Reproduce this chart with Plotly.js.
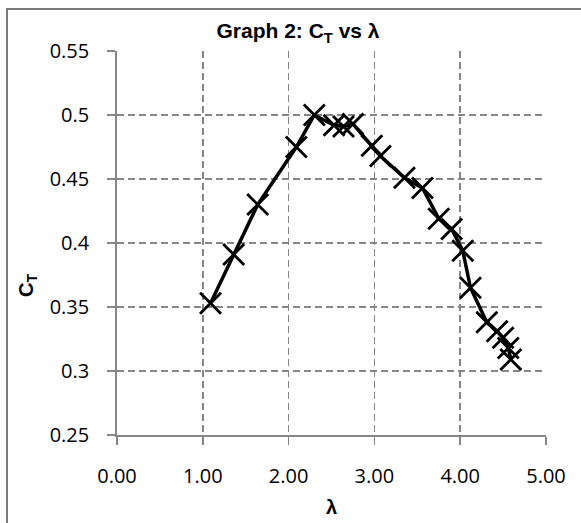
<!DOCTYPE html>
<html>
<head>
<meta charset="utf-8">
<script src="https://cdn.plot.ly/plotly-3.0.1.min.js"></script>
<style>
html,body{margin:0;padding:0;background:#fff;}
#chart{width:581px;height:523px;}
</style>
</head>
<body>
<div id="chart"></div>
<script>
// Data
const lambdaVals = [1.09, 1.36, 1.64, 2.09, 2.30, 2.53, 2.64, 2.75, 2.97, 3.07, 3.35, 3.56, 3.75, 3.90, 4.03, 4.12, 4.31, 4.43, 4.50, 4.56, 4.59];
const ctVals     = [0.353, 0.391, 0.430, 0.475, 0.500, 0.492, 0.491, 0.493, 0.476, 0.468, 0.451, 0.443, 0.419, 0.411, 0.394, 0.365, 0.338, 0.331, 0.326, 0.318, 0.309];
const xTickVals  = [0, 1, 2, 3, 4, 5];
const xTickText  = ["0.00", "1.00", "2.00", "3.00", "4.00", "5.00"];
const yTickVals  = [0.25, 0.3, 0.35, 0.4, 0.45, 0.5, 0.55];
const yTickText  = ["0.25", "0.3", "0.35", "0.4", "0.45", "0.5", "0.55"];

const W = 581, H = 523;
const M = {l: 117, r: 35, t: 51, b: 88};
const pw = W - M.l - M.r, ph = H - M.t - M.b;
const px2paperX = p => (p - M.l) / pw;
const py2paperY = p => (H - M.b - p) / ph;

const gridColor = "#868686";
const tickFont = {family: "Open Sans, Liberation Sans, sans-serif", size: 20, color: "#000"};

const trace = {
  x: lambdaVals,
  y: ctVals,
  mode: "lines+markers",
  type: "scatter",
  line: {color: "#000", width: 3.5},
  marker: {symbol: "x-thin-open", size: 21, line: {color: "#000", width: 2.8}},
  cliponaxis: false,
  showlegend: false
};

const layout = {
  width: W, height: H,
  margin: M,
  paper_bgcolor: "#fff",
  plot_bgcolor: "#fff",
  title: {
    text: "<b>Graph 2: C<sub>T</sub> vs λ</b>",
    font: {family: "Liberation Sans, Arial, sans-serif", size: 21, color: "#000"},
    xref: "container", x: 298 / W, xanchor: "center",
    yref: "container", y: 1 - 31 / H, yanchor: "middle"
  },
  xaxis: {
    range: [0, 5],
    tickvals: xTickVals, ticktext: xTickText,
    ticks: "outside", ticklen: 8, tickwidth: 1.5, tickcolor: gridColor,
    showline: true, linecolor: gridColor, linewidth: 1.8,
    showgrid: true, gridcolor: gridColor, gridwidth: 1.5, griddash: "7px,4px",
    zeroline: false,
    tickfont: tickFont,
    ticklabelstandoff: 14,
    title: {text: "<b>λ</b>", font: {family: "Liberation Sans, Arial, sans-serif", size: 20, color: "#000"}, standoff: 12}
  },
  yaxis: {
    range: [0.25, 0.55],
    tickvals: yTickVals, ticktext: yTickText,
    ticks: "outside", ticklen: 8, tickwidth: 1.5, tickcolor: gridColor,
    showline: true, linecolor: gridColor, linewidth: 1.8,
    showgrid: true, gridcolor: gridColor, gridwidth: 1.5, griddash: "7px,4px",
    zeroline: false,
    tickfont: tickFont,
    ticklabelstandoff: 14
  },
  annotations: [{
    text: "<b>C<sub>T</sub></b>",
    xref: "paper", yref: "paper",
    x: px2paperX(27), y: py2paperY(286),
    xanchor: "center", yanchor: "middle",
    textangle: -90, showarrow: false,
    font: {family: "Liberation Sans, Arial, sans-serif", size: 20, color: "#000"}
  }],
  shapes: [
    {type: "line", xref: "paper", yref: "paper", x0: px2paperX(7), x1: px2paperX(7), y0: py2paperY(9), y1: py2paperY(530), line: {color: "#7a7a7a", width: 2}},
    {type: "line", xref: "paper", yref: "paper", x0: px2paperX(6), x1: px2paperX(590), y0: py2paperY(9), y1: py2paperY(9), line: {color: "#7a7a7a", width: 2}}
  ]
};

Plotly.newPlot("chart", [trace], layout, {displayModeBar: false, staticPlot: true});
</script>
</body>
</html>
